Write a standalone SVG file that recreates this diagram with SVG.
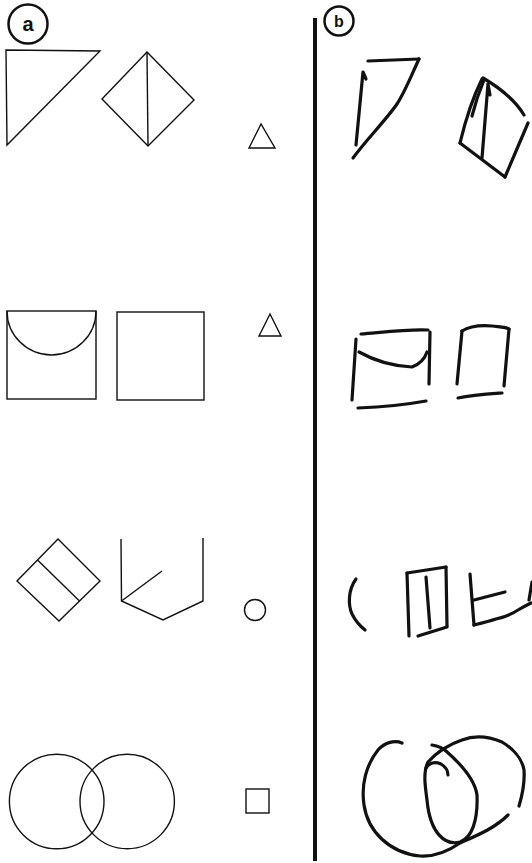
<svg xmlns="http://www.w3.org/2000/svg" width="532" height="863" viewBox="0 0 532 863">
<style>
.thin{fill:none;stroke:#111;stroke-width:1.4;stroke-linejoin:miter}
.hand{fill:none;stroke:#111;stroke-width:3.2;stroke-linecap:round;stroke-linejoin:round}
.lab{font-family:"Liberation Sans",Arial,sans-serif;font-weight:bold;fill:#111;text-anchor:middle}
</style>
<rect width="532" height="863" fill="#fff"/>
<g id="divider"><line x1="315" y1="18" x2="315" y2="861" stroke="#111" stroke-width="4"/></g>
<g id="label-a"><circle cx="28" cy="24" r="19.5" fill="none" stroke="#111" stroke-width="2.5"/><text class="lab" x="28" y="31" font-size="20">a</text></g>
<g id="label-b"><circle cx="339" cy="21" r="14.5" fill="none" stroke="#111" stroke-width="2.5"/><text class="lab" x="339" y="27" font-size="16">b</text></g>

<g id="a-row1">
<polygon class="thin" points="6,50 100,51 7,145"/>
<polygon class="thin" points="147,52 194,100 148,146 102,99"/>
<line class="thin" x1="147" y1="52" x2="148" y2="146"/>
<polygon class="thin" points="261,124 249,148 275,148" stroke-width="1.8"/>
</g>
<g id="a-row2">
<rect class="thin" x="7" y="311" width="89" height="88"/>
<path class="thin" d="M7,311 A44.5,44 0 0 0 96,311"/>
<rect class="thin" x="117" y="312" width="87" height="88"/>
<polygon class="thin" points="270,314 259,336 281,336" stroke-width="1.8"/>
</g>
<g id="a-row3">
<polygon class="thin" points="58,539 100,581 59,621 17,581"/>
<line class="thin" x1="37.5" y1="560" x2="79.5" y2="601"/>
<polyline class="thin" points="121,539 121.5,601 163,620 203,601 203,538"/>
<line class="thin" x1="121.5" y1="601" x2="162" y2="571"/>
<circle class="thin" cx="255" cy="610" r="10.5"/>
</g>
<g id="a-row4">
<circle class="thin" cx="56.7" cy="801.5" r="47.3"/>
<circle class="thin" cx="127.2" cy="801.5" r="47.2"/>
<rect class="thin" x="246" y="789" width="23" height="24" stroke-width="1.6"/>
</g>

<g id="b-row1">
<path class="hand" d="M368,61 L419,59"/>
<path class="hand" d="M419,59 C412,74 405,92 397,104 C386,120 366,140 353,158"/>
<path class="hand" d="M356,145 L363,72 L366,79"/>
<path class="hand" d="M482,79 C474,95 466,118 460,143"/>
<path class="hand" d="M484,80 C479,92 475,104 472,116" stroke-width="2.4"/>
<path class="hand" d="M460,143 L505,177"/>
<path class="hand" d="M505,177 L528,123"/>
<path class="hand" d="M483,78 C500,88 515,100 524,115"/>
<path class="hand" d="M488,84 L482,158 M488,84 L490,95"/>
</g>
<g id="b-row2">
<path class="hand" d="M361,334 C385,332 408,329 428,330"/>
<path class="hand" d="M430,332 L429,384"/>
<path class="hand" d="M356,339 L352,400"/>
<path class="hand" d="M359,352 C375,361 392,366 412,367 C420,364 425,358 427,352"/>
<path class="hand" d="M358,408 C382,407 404,405 426,401"/>
<path class="hand" d="M462,331 L457,384"/>
<path class="hand" d="M462,331 C470,326 480,325 492,326 C500,327 506,327 509,329"/>
<path class="hand" d="M509,329 L504,386"/>
<path class="hand" d="M458,398 C472,395 488,394 502,393"/>
</g>
<g id="b-row3">
<path class="hand" d="M356,579 C348,590 348,605 352,614 C356,622 360,626 365,630" stroke-width="2.6"/>
<path class="hand" d="M407,573 L409,636"/>
<path class="hand" d="M407,573 L446,567"/>
<path class="hand" d="M446,567 L447,626"/>
<path class="hand" d="M418,636 L447,627"/>
<path class="hand" d="M426,577 L430,628"/>
<path class="hand" d="M470,574 L474,625"/>
<path class="hand" d="M474,625 C482,623 490,621 496,619 C505,617 512,614 518,610 C523,607 527,605 531,603"/>
<path class="hand" d="M474,600 L505,592"/>
<path class="hand" d="M529,600 L532,582"/>
</g>
<g id="b-row4">
<path class="hand" d="M402,743 C395,740 385,742 378,750 C366,765 361,785 364,805 C368,832 390,853 420,856 C436,857 450,850 460,843 C478,835 495,828 508,815"/>
<path class="hand" d="M432,745 C438,746 443,748 446,751 C462,765 475,780 477,795 C478,820 472,838 460,842 C445,846 430,833 427,800 C425,785 423,772 428,762 C438,751 450,744 462,740 C475,735 490,737 502,742 C512,748 522,758 524,770 C525,784 522,796 519,806"/>
<path class="hand" d="M426,768 C430,762 436,762 441,764 C446,767 448,771 448,775" stroke-width="2.6"/>
</g>
</svg>
